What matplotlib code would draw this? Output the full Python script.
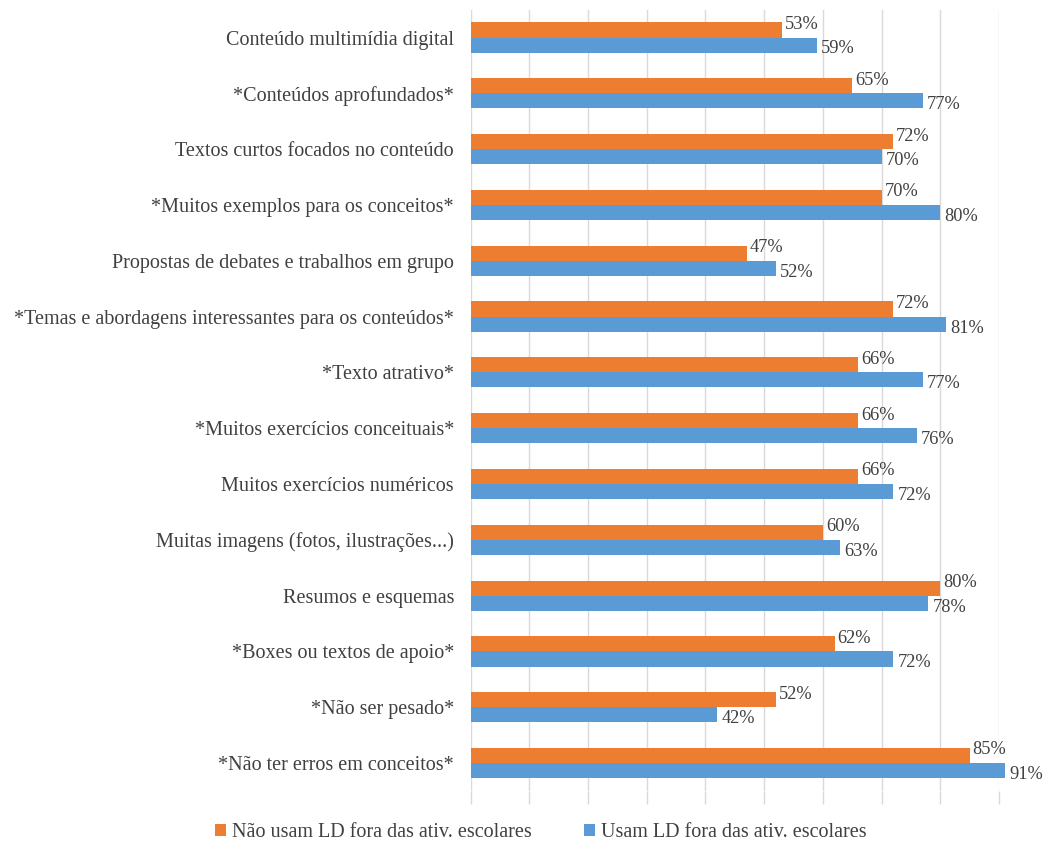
import numpy as np
import matplotlib
matplotlib.use('Agg')
import matplotlib.pyplot as plt

plt.rcParams['font.family'] = ['Liberation Serif', 'DejaVu Serif']

categorias = ['Conteúdo multimídia digital',
              '*Conteúdos aprofundados*',
              'Textos curtos focados no conteúdo',
              '*Muitos exemplos para os conceitos*',
              'Propostas de debates e trabalhos em grupo',
              '*Temas e abordagens interessantes para os conteúdos*',
              '*Texto atrativo*',
              '*Muitos exercícios conceituais*',
              'Muitos exercícios numéricos',
              'Muitas imagens (fotos, ilustrações...)',
              'Resumos e esquemas',
              '*Boxes ou textos de apoio*',
              '*Não ser pesado*',
              '*Não ter erros em conceitos*']
nao_usam = [53, 65, 72, 70, 47, 72, 66, 66, 66, 60, 80, 62, 52, 85]
usam = [59, 77, 70, 80, 52, 81, 77, 76, 72, 63, 78, 72, 42, 91]

cor_laranja = '#ED7D31'
cor_azul = '#5B9BD5'

fig = plt.figure(figsize=(10.46, 8.42), dpi=100)
ax = fig.add_axes([0.450, 0.0606, 0.505, 0.928])

y = np.arange(len(categorias))
h = 0.27
b1 = ax.barh(y - h/2, nao_usam, height=h, color=cor_laranja, clip_on=False,
             label='Não usam LD fora das ativ. escolares', zorder=3)
b2 = ax.barh(y + h/2, usam, height=h, color=cor_azul, clip_on=False,
             label='Usam LD fora das ativ. escolares', zorder=3)

for yi, v in zip(y, nao_usam):
    ax.text(v + 0.5, yi - h/2 - 0.1, f'{v}%', va='center', ha='left',
            fontsize=13.2, color='#404040')
for yi, v in zip(y, usam):
    ax.text(v + 0.7, yi + h/2 + 0.07, f'{v}%', va='center', ha='left',
            fontsize=13.2, color='#404040')

ax.set_ylim(len(categorias) - 0.5, -0.5)
ax.set_xlim(0, 90)
ax.set_xticks(np.arange(0, 91, 10))
ax.set_xticklabels([])
ax.tick_params(axis='x', length=9, color='#D9D9D9', width=1)
ax.tick_params(axis='y', length=0, pad=12)
ax.set_yticks(y)
ax.set_yticklabels(categorias, fontsize=14.5, color='#404040')
ax.grid(axis='x', color='#D9D9D9', linewidth=1, zorder=0)
for s in ax.spines.values():
    s.set_visible(False)

fig.legend(handles=[b1, b2], loc='center', bbox_to_anchor=(0.517, 0.011),
           ncol=2, frameon=False, fontsize=14.5, handlelength=0.55,
           handleheight=0.55, handletextpad=0.3, columnspacing=2.6,
           labelcolor='#404040')

fig.savefig('out.png', dpi=100)
